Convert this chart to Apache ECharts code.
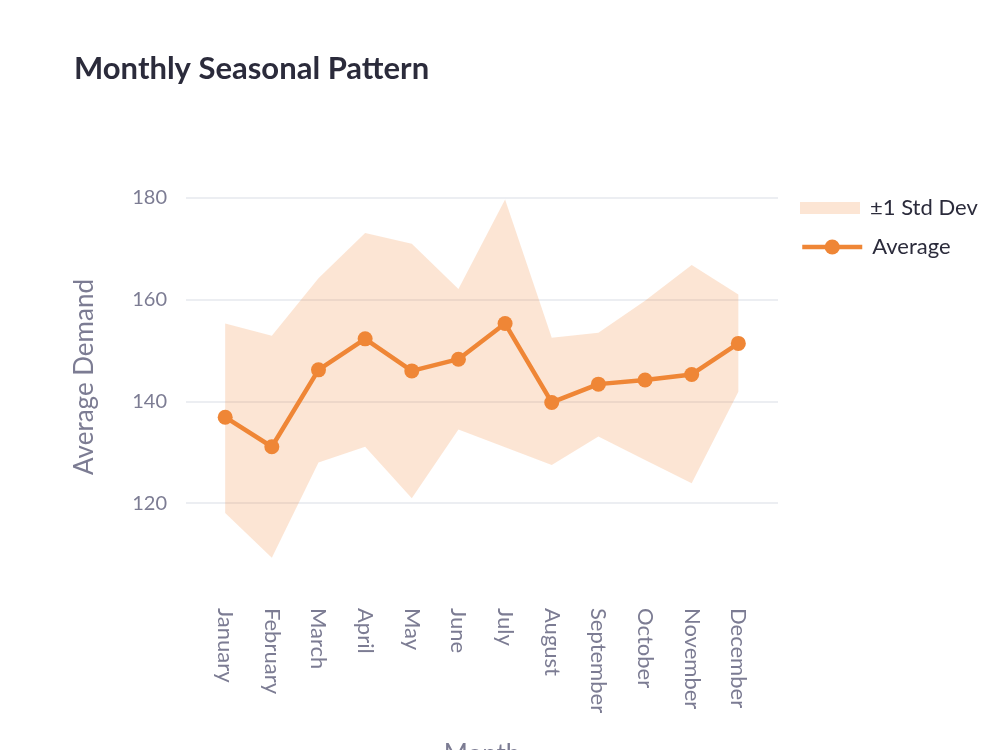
<!DOCTYPE html>
<html>
<head>
<meta charset="utf-8">
<script src="https://cdn.jsdelivr.net/npm/echarts@6/dist/echarts.min.js"></script>
<style>
  html, body { margin: 0; padding: 0; background: #fff; }
  #main { width: 1000px; height: 750px; }
</style>
</head>
<body>
<div id="main"></div>
<script>
var months = ["January", "February", "March", "April", "May", "June",
  "July", "August", "September", "October", "November", "December"];
var average = [136.9, 131.1, 146.2, 152.3, 146.0, 148.3, 155.3, 139.8, 143.4, 144.2, 145.3, 151.4];
var upper = [155.3, 152.9, 164.2, 173.1, 171.0, 162.1, 179.7, 152.5, 153.5, 159.8, 166.8, 161.0];
var lower = [118.1, 109.3, 128.0, 131.1, 121.0, 134.5, 131.0, 127.5, 133.1, 128.5, 123.9, 141.9];
var yTicks = [120, 140, 160, 180];

var orange = '#ef8636';
var bandColor = 'rgba(239,134,54,0.21)';
var textColor = '#7c7c93';
var darkText = '#2b2b3b';
var font = 'Lato';

var myChart = echarts.init(document.getElementById('main'));

var bandData = months.map(function (m, i) { return [i, lower[i], upper[i]]; });
var avgData = average.map(function (v, i) { return [i, v]; });

var option = {
  backgroundColor: '#fff',
  animation: false,
  textStyle: { fontFamily: font },
  title: {
    text: 'Monthly Seasonal Pattern',
    left: 69,
    top: 48,
    textStyle: { fontFamily: font, fontSize: 31, fontWeight: 'bold', color: darkText }
  },
  legend: [
    {
      orient: 'vertical',
      left: 800,
      top: 197,
      padding: 0,
      itemWidth: 60,
      itemHeight: 12,
      textStyle: { fontFamily: font, fontSize: 22, color: darkText, padding: [0, 0, 0, 5] },
      data: [{ name: '±1 Std Dev', icon: 'rect', itemStyle: { color: bandColor } }]
    },
    {
      orient: 'vertical',
      left: 800,
      top: 236,
      padding: 0,
      itemWidth: 60,
      itemHeight: 19,
      textStyle: { fontFamily: font, fontSize: 22, color: darkText, padding: [0, 0, 0, 5] },
      data: [{ name: 'Average', lineStyle: { width: 4.5 } }]
    }
  ],
  grid: {
    left: 186,
    right: 222,
    top: 178,
    bottom: 174,
    outerBoundsMode: 'none'
  },
  xAxis: {
    type: 'value',
    min: -0.84,
    max: 11.85,
    name: 'Month',
    nameLocation: 'middle',
    nameGap: 166,
    nameTextStyle: { fontFamily: font, fontSize: 26, color: textColor, verticalAlign: 'top' },
    axisLine: { show: false },
    axisTick: { show: false },
    splitLine: { show: false },
    axisLabel: {
      customValues: [0, 1, 2, 3, 4, 5, 6, 7, 8, 9, 10, 11],
      rotate: -90,
      margin: 32,
      fontSize: 22,
      color: textColor,
      fontFamily: font,
      formatter: function (v) { return months[Math.round(v)]; }
    }
  },
  yAxis: {
    type: 'value',
    min: 105.7,
    max: 183.9,
    name: 'Average Demand',
    nameLocation: 'middle',
    nameGap: 101,
    nameTextStyle: { fontFamily: font, fontSize: 26, color: textColor, verticalAlign: 'middle' },
    axisLine: { show: false },
    axisTick: { show: false, customValues: yTicks },
    splitLine: { show: true, lineStyle: { color: '#e6e8ee', width: 1.5 } },
    axisLabel: {
      customValues: yTicks,
      margin: 19,
      fontSize: 20,
      color: textColor,
      fontFamily: font
    }
  },
  series: [
    {
      name: '±1 Std Dev',
      type: 'custom',
      data: bandData,
      encode: { x: 0, y: [1, 2] },
      itemStyle: { color: bandColor },
      silent: true,
      z: 1,
      renderItem: function (params, api) {
        // whole band drawn once as one polygon: upper edge, then lower edge back
        if (params.dataIndex !== 0) return null;
        var pts = [];
        for (var i = 0; i < upper.length; i++) pts.push(api.coord([i, upper[i]]));
        for (var j = lower.length - 1; j >= 0; j--) pts.push(api.coord([j, lower[j]]));
        return {
          type: 'polygon',
          shape: { points: pts },
          style: { fill: bandColor }
        };
      }
    },
    {
      name: 'Average',
      type: 'line',
      data: avgData,
      symbol: 'circle',
      symbolSize: 15,
      itemStyle: { color: orange },
      lineStyle: { color: orange, width: 4.5 },
      z: 5
    }
  ]
};
myChart.setOption(option);
</script>
</body>
</html>
